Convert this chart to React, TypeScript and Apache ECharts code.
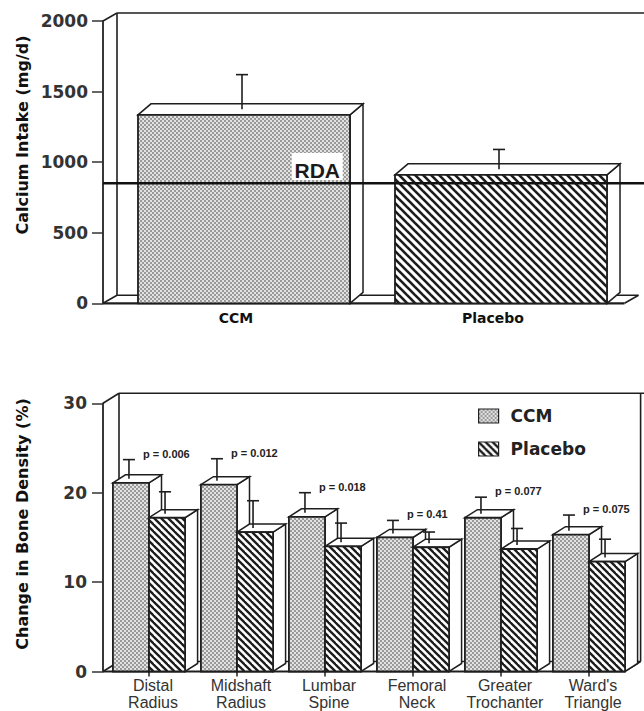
import React, { useEffect, useRef } from 'react';
import * as echarts from 'echarts';

// ---------- data ----------
const intakeCategories = ['CCM', 'Placebo'];
const intakeMean = [1335, 910];
const intakeSD = [285, 180];
const rdaValue = 850;
const intakeTicks = [0, 500, 1000, 1500, 2000];

const siteCategories = [
  'Distal\nRadius',
  'Midshaft\nRadius',
  'Lumbar\nSpine',
  'Femoral\nNeck',
  'Greater\nTrochanter',
  "Ward's\nTriangle",
];
const ccmChange = [21.1, 20.9, 17.3, 15.0, 17.2, 15.3];
const ccmSD = [2.6, 2.9, 2.7, 1.9, 2.3, 2.2];
const placeboChange = [17.2, 15.6, 14.0, 13.9, 13.7, 12.3];
const placeboSD = [2.9, 3.5, 2.6, 1.7, 2.3, 2.5];
const pValues = ['p = 0.006', 'p = 0.012', 'p = 0.018', 'p = 0.41', 'p = 0.077', 'p = 0.075'];
const changeTicks = [0, 10, 20, 30];

// ---------- patterns ----------
function makeStipple() {
  const c = document.createElement('canvas');
  c.width = 4;
  c.height = 4;
  const g = c.getContext('2d')!;
  g.fillStyle = '#e2e2e2';
  g.fillRect(0, 0, 4, 4);
  g.fillStyle = '#9a9a9a';
  g.fillRect(0, 0, 2, 2);
  g.fillRect(2, 2, 2, 2);
  return { image: c, repeat: 'repeat', imageWidth: 4, imageHeight: 4 };
}
function makeHatch(p: number, lw: number) {
  const c = document.createElement('canvas');
  c.width = p;
  c.height = p;
  const g = c.getContext('2d')!;
  g.fillStyle = '#ffffff';
  g.fillRect(0, 0, p, p);
  g.strokeStyle = '#1c1c1c';
  g.lineWidth = lw;
  for (let k = -1; k <= 1; k++) {
    g.beginPath();
    g.moveTo(-2, -2 + k * p);
    g.lineTo(p + 2, p + 2 + k * p);
    g.stroke();
  }
  return { image: c, repeat: 'repeat', imageWidth: p, imageHeight: p };
}

const STROKE = '#1e1e1e';

function bar3D(opts: {
  fill: any;
  ratio: number;
  align: 'center' | 'left' | 'right';
  dx: number;
  dy: number;
  pLabels?: string[];
}) {
  return (params: any, api: any) => {
    const idx = api.value(0);
    const v = api.value(1);
    const sd = api.value(2);
    const base = api.coord([idx, 0]);
    const top = api.coord([idx, v]);
    const errP = api.coord([idx, v + sd]);
    const band = api.size([1, 0])[0];
    const bw = band * opts.ratio;
    const x0 =
      opts.align === 'center' ? base[0] - bw / 2 : opts.align === 'left' ? base[0] - bw : base[0];
    const x1 = x0 + bw;
    const yT = top[1];
    const yB = base[1];
    const { dx, dy } = opts;
    const children: any[] = [
      {
        type: 'polygon',
        shape: { points: [[x1, yT], [x1 + dx, yT + dy], [x1 + dx, yB + dy], [x1, yB]] },
        style: { fill: '#ffffff', stroke: STROKE, lineWidth: 1.5 },
      },
      {
        type: 'polygon',
        shape: { points: [[x0, yT], [x0 + dx, yT + dy], [x1 + dx, yT + dy], [x1, yT]] },
        style: { fill: '#ffffff', stroke: STROKE, lineWidth: 1.5 },
      },
      {
        type: 'rect',
        shape: { x: x0, y: yT, width: bw, height: yB - yT },
        style: { fill: opts.fill, stroke: STROKE, lineWidth: 1.8 },
      },
    ];
    const ex = (x0 + x1) / 2 - 2;
    children.push({
      type: 'line',
      shape: { x1: ex, y1: yT + dy / 2, x2: ex, y2: errP[1] },
      style: { stroke: STROKE, lineWidth: 1.6 },
    });
    children.push({
      type: 'line',
      shape: { x1: ex - 6, y1: errP[1], x2: ex + 6, y2: errP[1] },
      style: { stroke: STROKE, lineWidth: 1.6 },
    });
    if (opts.pLabels) {
      children.push({
        type: 'text',
        style: {
          text: opts.pLabels[params.dataIndex],
          x: ex + 14,
          y: errP[1] - 6,
          fill: '#222',
          fontFamily: 'Liberation Sans',
          fontWeight: 'bold',
          fontSize: 11,
          align: 'left',
          verticalAlign: 'middle',
        },
      });
    }
    return { type: 'group', children };
  };
}

function frame(axisShift: number, wdx: number, wdy: number, rightTrim: number, rightWall: boolean) {
  return (params: any) => {
    const cs = params.coordSys;
    const fx = cs.x - axisShift;
    const yT = cs.y;
    const y0 = cs.y + cs.height;
    const xr = cs.x + cs.width - rightTrim;
    const far = cs.x + cs.width + 80;
    const st = { stroke: STROKE, lineWidth: 1.6 };
    const L = (a: number, b: number, c: number, d: number, w?: number) => ({
      type: 'line',
      shape: { x1: a, y1: b, x2: c, y2: d },
      style: w ? { stroke: STROKE, lineWidth: w } : st,
    });
    const children: any[] = [
      {
        type: 'polygon',
        shape: { points: [[fx, y0], [fx + wdx, y0 + wdy], [xr + wdx, y0 + wdy], [xr, y0]] },
        style: { fill: '#ffffff', stroke: 'none' },
      },
      L(fx, yT, fx + wdx, yT + wdy),
      L(fx + wdx, yT + wdy, fx + wdx, y0 + wdy),
      L(fx + wdx, yT + wdy, far, yT + wdy),
      L(fx, y0, fx + wdx, y0 + wdy),
      L(fx + wdx, y0 + wdy, xr + wdx, y0 + wdy),
      L(xr, y0, xr + wdx, y0 + wdy),
      L(fx, y0, xr, y0, 2.2),
    ];
    if (rightWall) children.push(L(xr + wdx, yT + wdy, xr + wdx, y0 + wdy));
    return { type: 'group', children };
  };
}

function rdaRender(params: any, api: any) {
  const cs = params.coordSys;
  const p = api.coord([0, api.value(1)]);
  const band = api.size([1, 0])[0];
  const barRight = p[0] + (band * 0.825) / 2;
  const y = p[1];
  return {
    type: 'group',
    children: [
      {
        type: 'rect',
        shape: { x: barRight - 58.3, y: y - 30.3, width: 51, height: 27 },
        style: { fill: '#ffffff' },
      },
      {
        type: 'text',
        style: {
          text: 'RDA',
          x: barRight - 10,
          y: y - 12.5,
          fill: '#1a1a1a',
          fontFamily: 'Liberation Sans',
          fontWeight: 'bold',
          fontSize: 21,
          align: 'right',
          verticalAlign: 'middle',
        },
      },
      {
        type: 'line',
        shape: { x1: cs.x - 12.5, y1: y, x2: cs.x + cs.width + 80, y2: y },
        style: { stroke: '#111', lineWidth: 2.6 },
      },
    ],
  };
}

export default function App() {
  const ref = useRef<HTMLDivElement>(null);
  useEffect(() => {
    const chart = echarts.init(ref.current!, null, { renderer: 'svg' });
    const stipple = makeStipple();
    const hatchBig = makeHatch(8, 2.6);
    const hatchSmall = makeHatch(7, 2.3);

    const yLabel = {
      fontFamily: 'DejaVu Sans',
      fontWeight: 'bold',
      fontSize: 17,
      color: '#333',
      formatter: (v: number) => String(v),
    };

    const option: any = {
      animation: false,
      backgroundColor: '#ffffff',
      grid: [
        { left: 115.5, width: 514, top: 21, height: 282.3 },
        { left: 105, width: 528, top: 403.3, height: 268.2 },
      ],
      xAxis: [
        {
          type: 'category',
          gridIndex: 0,
          data: intakeCategories,
          axisLine: { show: false },
          axisTick: { show: false },
          axisLabel: {
            fontFamily: 'DejaVu Sans',
            fontWeight: 'bold',
            fontSize: 14,
            color: '#111',
            margin: 8,
            padding: [0, 16, 0, 0],
          },
        },
        {
          type: 'category',
          gridIndex: 1,
          data: siteCategories,
          axisLine: { show: false },
          axisTick: {
            show: true,
            alignWithLabel: true,
            length: 5,
            lineStyle: { color: '#222', width: 1.5 },
          },
          axisLabel: {
            interval: 0,
            fontFamily: 'Liberation Sans',
            fontSize: 16,
            lineHeight: 16.5,
            color: '#333',
            margin: 6,
            padding: [0, 0, 0, 8],
          },
        },
      ],
      yAxis: [
        {
          type: 'value',
          gridIndex: 0,
          min: intakeTicks[0],
          max: intakeTicks[intakeTicks.length - 1],
          interval: intakeTicks[1] - intakeTicks[0],
          offset: 12.5,
          axisLine: { show: true, lineStyle: { color: '#222', width: 1.8 } },
          axisTick: { show: true, length: 11, lineStyle: { color: '#333', width: 1.5 } },
          splitLine: { show: false },
          axisLabel: { ...yLabel, margin: 15 },
        },
        {
          type: 'value',
          gridIndex: 1,
          min: changeTicks[0],
          max: changeTicks[changeTicks.length - 1],
          interval: changeTicks[1] - changeTicks[0],
          offset: 2,
          axisLine: { show: true, lineStyle: { color: '#222', width: 1.8 } },
          axisTick: { show: true, length: 11, lineStyle: { color: '#333', width: 1.5 } },
          splitLine: { show: false },
          axisLabel: { ...yLabel, margin: 16 },
        },
      ],
      legend: {
        orient: 'vertical',
        left: 478,
        top: 406,
        padding: 0,
        itemWidth: 20,
        itemHeight: 14,
        itemGap: 13,
        selectedMode: false,
        textStyle: {
          fontFamily: 'DejaVu Sans',
          fontWeight: 'bold',
          fontSize: 17,
          color: '#222',
          lineHeight: 20,
          padding: [0, 0, 0, 7],
        },
        data: [
          {
            name: 'CCM',
            icon: 'rect',
            itemStyle: { color: stipple, borderColor: '#222', borderWidth: 1.2 },
          },
          {
            name: 'Placebo',
            icon: 'rect',
            itemStyle: { color: hatchSmall, borderColor: '#222', borderWidth: 1.2 },
          },
        ],
      },
      graphic: [
        {
          type: 'text',
          x: 22,
          y: 135,
          rotation: Math.PI / 2,
          style: {
            text: 'Calcium Intake (mg/d)',
            fill: '#111',
            fontFamily: 'DejaVu Sans',
            fontWeight: 'bold',
            fontSize: 16,
            align: 'center',
            verticalAlign: 'middle',
          },
        },
        {
          type: 'text',
          x: 22,
          y: 524,
          rotation: Math.PI / 2,
          style: {
            text: 'Change in Bone Density (%)',
            fill: '#111',
            fontFamily: 'DejaVu Sans',
            fontWeight: 'bold',
            fontSize: 16,
            align: 'center',
            verticalAlign: 'middle',
          },
        },
      ],
      series: [
        {
          type: 'custom',
          name: 'frame-top',
          xAxisIndex: 0,
          yAxisIndex: 0,
          silent: true,
          clip: false,
          data: [[0, 0]],
          renderItem: frame(12.5, 14, -8, 5, false),
        },
        {
          type: 'custom',
          name: 'frame-bottom',
          xAxisIndex: 1,
          yAxisIndex: 1,
          silent: true,
          clip: false,
          data: [[0, 0]],
          renderItem: frame(2, 16, -10, 8.4, true),
        },
        {
          type: 'custom',
          name: 'CCM intake',
          xAxisIndex: 0,
          yAxisIndex: 0,
          silent: true,
          clip: false,
          data: [[0, intakeMean[0], intakeSD[0]]],
          renderItem: bar3D({ fill: stipple, ratio: 0.825, align: 'center', dx: 13, dy: -11 }),
        },
        {
          type: 'custom',
          name: 'Placebo intake',
          xAxisIndex: 0,
          yAxisIndex: 0,
          silent: true,
          clip: false,
          data: [[1, intakeMean[1], intakeSD[1]]],
          renderItem: bar3D({ fill: hatchBig, ratio: 0.825, align: 'center', dx: 13, dy: -11 }),
        },
        {
          type: 'custom',
          name: 'RDA',
          xAxisIndex: 0,
          yAxisIndex: 0,
          silent: true,
          clip: false,
          data: [[0, rdaValue]],
          renderItem: rdaRender,
        },
        {
          type: 'custom',
          name: 'CCM',
          xAxisIndex: 1,
          yAxisIndex: 1,
          silent: true,
          clip: false,
          itemStyle: { color: stipple },
          data: ccmChange.map((v, i) => [i, v, ccmSD[i]]),
          renderItem: bar3D({
            fill: stipple,
            ratio: 0.41,
            align: 'left',
            dx: 12.5,
            dy: -8,
            pLabels: pValues,
          }),
        },
        {
          type: 'custom',
          name: 'Placebo',
          xAxisIndex: 1,
          yAxisIndex: 1,
          silent: true,
          clip: false,
          itemStyle: { color: hatchSmall },
          data: placeboChange.map((v, i) => [i, v, placeboSD[i]]),
          renderItem: bar3D({ fill: hatchSmall, ratio: 0.41, align: 'right', dx: 12.5, dy: -8 }),
        },
      ],
    };
    chart.setOption(option);
    return () => chart.dispose();
  }, []);
  return (
    <div
      ref={ref}
      style={{ position: 'absolute', left: 0, top: 0, width: 644, height: 711, background: '#fff' }}
    />
  );
}
